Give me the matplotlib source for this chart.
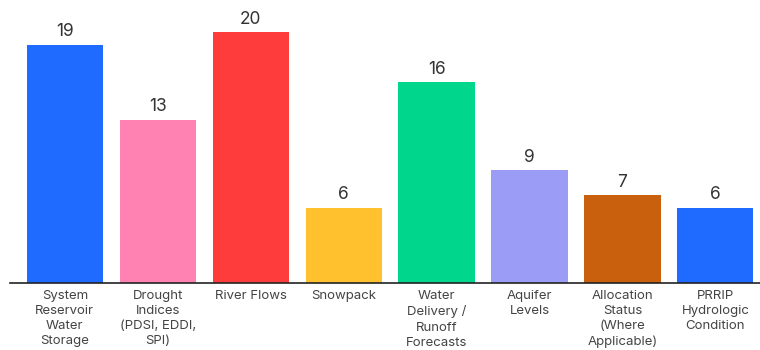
import matplotlib.pyplot as plt

categories = ['System\nReservoir\nWater\nStorage', 'Drought\nIndices\n(PDSI, EDDI,\nSPI)',
              'River Flows', 'Snowpack', 'Water\nDelivery /\nRunoff\nForecasts',
              'Aquifer\nLevels', 'Allocation\nStatus\n(Where\nApplicable)',
              'PRRIP\nHydrologic\nCondition']
counts = [19, 13, 20, 6, 16, 9, 7, 6]
bar_colors = ['#1f6bff', '#ff82b2', '#ff3c3c', '#ffc22e', '#00d68c',
              '#9b9cf6', '#c9600e', '#1f6bff']

plt.rcParams['font.family'] = ['Inter', 'DejaVu Sans']

fig = plt.figure(figsize=(7.6, 3.5), dpi=100)
ax = fig.add_axes([10 / 760, 67 / 350, 750 / 760, 283 / 350])

x = range(len(counts))
bars = ax.bar(x, counts, width=0.82, color=bar_colors)
for rect, v in zip(bars, counts):
    ax.text(rect.get_x() + rect.get_width() / 2, v + 0.35, str(v),
            ha='center', va='bottom', fontsize=12.5, color='#333333')

ax.set_xlim(-0.59, 7.48)
ax.set_ylim(0, 22.55)
ax.set_xticks(list(x))
ax.set_xticklabels(categories, fontsize=9.5, color='#444444', linespacing=1.35)
ax.tick_params(axis='x', length=0, pad=5)
ax.set_yticks([])
for side in ['top', 'right', 'left']:
    ax.spines[side].set_visible(False)
ax.spines['bottom'].set_color('#222222')
ax.spines['bottom'].set_linewidth(1.2)

fig.savefig('out.png', dpi=100)
